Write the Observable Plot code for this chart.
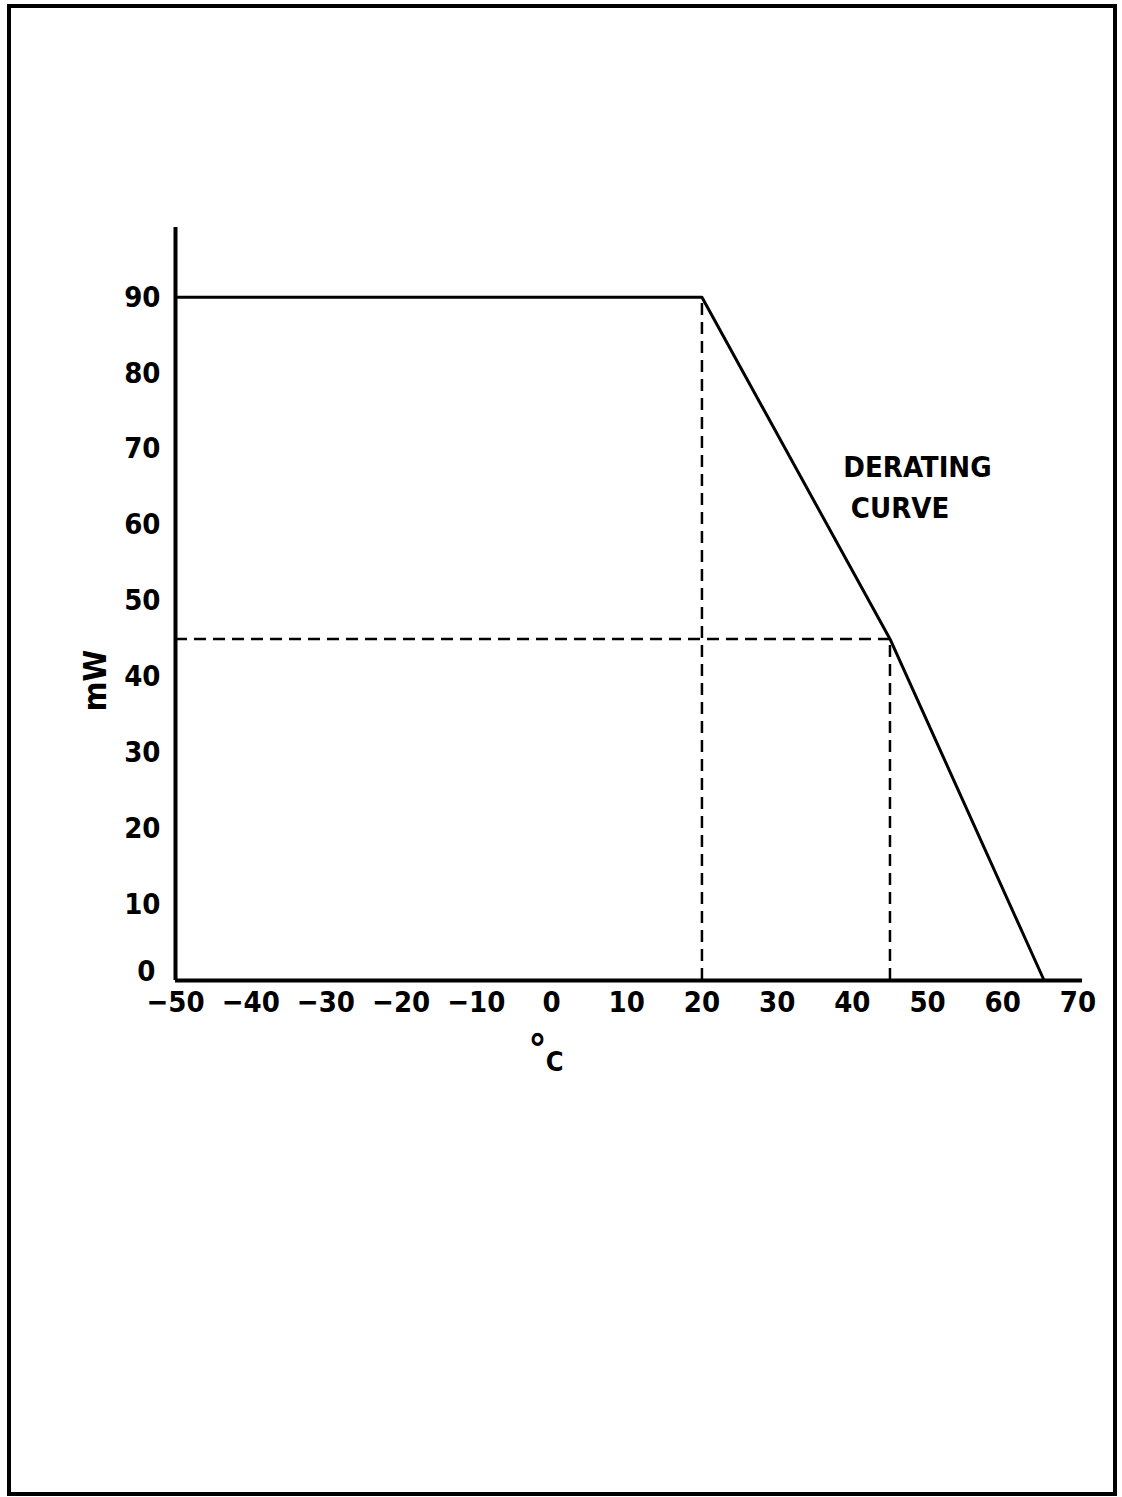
<!DOCTYPE html>
<html>
<head>
<meta charset="utf-8">
<script src="https://cdn.jsdelivr.net/npm/d3@7"></script>
<script src="https://cdn.jsdelivr.net/npm/@observablehq/plot@0.6"></script>
<style>
  html, body { margin: 0; padding: 0; background: #fff; }
  #wrap { position: relative; width: 1122px; height: 1497px; overflow: hidden; }
  #border { position: absolute; left: 7px; top: 4px; width: 1102px; height: 1484px; border: 4px solid #000; box-sizing: content-box; pointer-events: none; }
  svg { display: block; }
</style>
</head>
<body>
<div id="wrap"><div id="border"></div></div>
<script>
// Derating curve (temperature °C -> max power mW)
const curveTemp = [-50, 20, 45, 65.5];
const curvePower = [90, 90, 45, 0];

// Dashed guide lines
const guideX = [20, 45];        // vertical dashed at these temperatures
const guideXTop = [90, 45];     // up to these power values
const guideY = [45];            // horizontal dashed at this power
const guideYEnd = [45];         // from -50 to this temperature

// Axis ticks
const xTicks = [-50, -40, -30, -20, -10, 0, 10, 20, 30, 40, 50, 60, 70];
const xTickLabels = ["−50", "−40", "−30", "−20", "−10", "0", "10", "20", "30", "40", "50", "60", "70"];
const yTicks = [0, 10, 20, 30, 40, 50, 60, 70, 80, 90];
const yTickLabels = ["0", "10", "20", "30", "40", "50", "60", "70", "80", "90"];

const annotation = ["DERATING", "CURVE"];

const curve = curveTemp.map((t, i) => ({t, p: curvePower[i]}));
const vGuides = guideX.map((t, i) => ({t, top: guideXTop[i]}));
const hGuides = guideY.map((p, i) => ({p, end: guideYEnd[i]}));

const font = "'DejaVu Sans Condensed', 'DejaVu Sans', sans-serif";
const yFmt = (d) => yTickLabels[yTicks.indexOf(d)];

const chart = Plot.plot({
  width: 1122,
  height: 1497,
  marginLeft: 175,
  marginRight: 40,
  marginTop: 227,
  marginBottom: 517,
  x: {domain: [-50, 70.6]},
  y: {domain: [0, 99.2]},
  style: {fontFamily: font, fontWeight: "bold", color: "#000", background: "transparent"},
  marks: [
    Plot.axisX({ticks: xTicks, tickSize: 0, tickPadding: 11, tickFormat: (d) => xTickLabels[xTicks.indexOf(d)], fontSize: 29, fontWeight: "bold", label: null}),
    Plot.axisY({ticks: yTicks.filter(d => d > 0), tickSize: 0, tickPadding: 15, tickFormat: yFmt, fontSize: 29, fontWeight: "bold", label: null}),
    Plot.axisY({ticks: yTicks.filter(d => d === 0), tickSize: 0, tickPadding: 20, dy: -9, tickFormat: yFmt, fontSize: 29, fontWeight: "bold", label: null}),
    Plot.ruleY(hGuides, {y: "p", x1: -50, x2: "end", stroke: "#000", strokeWidth: 2.5, strokeDasharray: "12,7"}),
    Plot.ruleX(vGuides, {x: "t", y1: 0, y2: "top", stroke: "#000", strokeWidth: 2.5, strokeDasharray: "12,7"}),
    Plot.line(curve, {x: "t", y: "p", stroke: "#000", strokeWidth: 3}),
    Plot.ruleX([-50], {stroke: "#000", strokeWidth: 4}),
    Plot.ruleY([0], {stroke: "#000", strokeWidth: 4}),
    Plot.text([annotation[0]], {x: 38.8, y: 67.6, text: d => d, textAnchor: "start", fontSize: 29, fontWeight: "bold", letterSpacing: "3px"}),
    Plot.text([annotation[1]], {x: 39.8, y: 62.2, text: d => d, textAnchor: "start", fontSize: 29, fontWeight: "bold", letterSpacing: "3px"}),
    Plot.text(["mW"], {x: -50, y: 39.5, text: d => d, dx: -80, rotate: -90, fontSize: 32, fontWeight: "bold"}),
    Plot.text(["°"], {x: 0, y: 0, text: d => d, dx: -14, dy: 70, fontSize: 40, fontWeight: "bold"}),
    Plot.text(["C"], {x: 0, y: 0, text: d => d, dx: 3, dy: 82, fontSize: 27, fontWeight: "bold"})
  ]
});
document.getElementById("wrap").prepend(chart);
</script>
</body>
</html>
